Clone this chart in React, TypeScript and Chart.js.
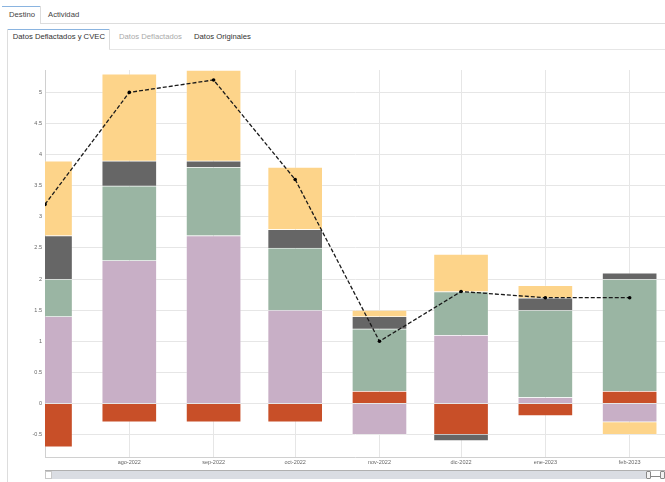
import React, { useEffect, useRef } from "react";
import { Chart, registerables } from "chart.js";

Chart.register(...registerables);

// ---- data ----
const categories = ["jul-2022", "ago-2022", "sep-2022", "oct-2022", "nov-2022", "dic-2022", "ene-2023", "feb-2023"];
const monthStarts = ["2022-07-01", "2022-08-01", "2022-09-01", "2022-10-01", "2022-11-01", "2022-12-01", "2023-01-01", "2023-02-01"];
const serieRoja = [-0.7, -0.3, -0.3, -0.3, 0.2, -0.5, -0.2, 0.2];
const serieRosa = [1.4, 2.3, 2.7, 1.5, -0.5, 1.1, 0.1, -0.3];
const serieVerde = [0.6, 1.2, 1.1, 1.0, 1.0, 0.7, 1.4, 1.8];
const serieGris = [0.7, 0.4, 0.1, 0.3, 0.2, -0.1, 0.2, 0.1];
const serieAmarilla = [1.2, 1.4, 1.46, 1.0, 0.1, 0.6, 0.2, -0.2];
const total = [3.2, 5.0, 5.2, 3.6, 1.0, 1.8, 1.7, 1.7];
const yTicks = [-0.5, 0, 0.5, 1, 1.5, 2, 2.5, 3, 3.5, 4, 4.5, 5];
const yMin = -0.86;
const yMax = 5.36;
const xMaxDays = 228;

const DAY = 86400000;
const t0 = Date.parse(monthStarts[0]);
const xDays = monthStarts.map((d) => (Date.parse(d) - t0) / DAY);

const FONT = "'Liberation Sans', Arial, sans-serif";

function ChartCanvas() {
  const ref = useRef<HTMLCanvasElement | null>(null);
  useEffect(() => {
    if (!ref.current) return;
    const pts = (vals: number[]) => vals.map((v, i) => ({ x: xDays[i], y: v }));
    const barDs = (label: string, vals: number[], color: string) => ({
      type: "bar" as const,
      label,
      data: pts(vals),
      backgroundColor: color,
      borderColor: "rgba(255,255,255,0.18)",
      borderWidth: 1,
      barThickness: 55,
      stack: "barras",
      order: 1,
    });
    const chart = new Chart(ref.current, {
      type: "bar",
      data: {
        datasets: [
          {
            type: "line" as const,
            label: "Total",
            data: pts(total),
            borderColor: "#1a1a1a",
            borderWidth: 1.3,
            borderDash: [4, 2],
            pointRadius: 1.8,
            pointBackgroundColor: "#000",
            pointBorderWidth: 0,
            stack: "total",
            order: 0,
            tension: 0,
          } as any,
          barDs("Serie 1", serieRoja, "#c84f28"),
          barDs("Serie 2", serieRosa, "#c8afc6"),
          barDs("Serie 3", serieVerde, "#9ab5a3"),
          barDs("Serie 4", serieGris, "#666666"),
          barDs("Serie 5", serieAmarilla, "#fdd48a"),
        ],
      },
      options: {
        animation: false,
        responsive: false,
        maintainAspectRatio: false,
        layout: { autoPadding: false, padding: { top: 15, bottom: 4, left: 0, right: 0 } },
        plugins: { legend: { display: false }, tooltip: { enabled: false } },
        scales: {
          x: {
            type: "linear",
            stacked: true,
            offset: false,
            min: 0,
            max: xMaxDays,
            afterFit: (s: any) => {
              s.height = 14;
              s.paddingLeft = 0;
              s.paddingRight = 0;
            },
            afterBuildTicks: (s: any) => {
              s.ticks = xDays.map((v) => ({ value: v }));
            },
            ticks: {
              padding: 2,
              maxRotation: 0,
              autoSkip: false,
              color: "#666",
              font: { family: FONT, size: 5.5 },
              callback: (v: any) => {
                const i = xDays.indexOf(Number(v));
                return i <= 0 ? "" : categories[i];
              },
            },
            grid: { color: "#e6e6e6", lineWidth: 1, drawTicks: false, offset: false },
            border: { color: "#d0d0d0", width: 1 },
          },
          y: {
            type: "linear",
            stacked: true,
            min: yMin,
            max: yMax,
            afterFit: (s: any) => {
              s.width = 45;
            },
            afterBuildTicks: (s: any) => {
              s.ticks = yTicks.map((v) => ({ value: v }));
            },
            ticks: {
              padding: 3,
              color: "#666",
              font: { family: FONT, size: 5.5 },
              callback: (v: any) => String(v),
            },
            grid: { color: "#e6e6e6", lineWidth: 1, drawTicks: false },
            border: { color: "#d0d0d0", width: 1 },
          },
        },
      },
    });
    return () => chart.destroy();
  }, []);
  return (
    <canvas
      ref={ref}
      width={665}
      height={420}
      style={{ position: "absolute", left: 0, top: 55, width: 665, height: 420 }}
    />
  );
}

const abs = (o: React.CSSProperties): React.CSSProperties => ({ position: "absolute", ...o });

export default function App() {
  const tabText = (text: string, left: number, cy: number, color: string) => (
    <div style={abs({ left, top: cy - 5, height: 10, lineHeight: "10px", fontSize: 7.7, color, whiteSpace: "nowrap" })}>{text}</div>
  );
  return (
    <div
      style={{
        position: "fixed",
        left: 0,
        top: 0,
        width: 665,
        height: 482,
        overflow: "hidden",
        background: "#fff",
        fontFamily: FONT,
      }}
    >
      {/* top tabs */}
      <div style={abs({ left: 2, top: 6, width: 38, height: 1, background: "#8ab4e0" })} />
      <div style={abs({ left: 40, top: 6, width: 1, height: 17, background: "#dddddd" })} />
      <div style={abs({ left: 40, top: 23, width: 625, height: 1, background: "#dddddd" })} />
      {tabText("Destino", 9, 14.5, "#444")}
      {tabText("Actividad", 48, 14.5, "#444")}

      {/* sub tabs */}
      <div style={abs({ left: 7, top: 29, width: 102, height: 1, background: "#8ab4e0" })} />
      <div style={abs({ left: 109, top: 29, width: 1, height: 20, background: "#dddddd" })} />
      <div style={abs({ left: 109, top: 49, width: 556, height: 1, background: "#e6e6e6" })} />
      <div style={abs({ left: 7, top: 29, width: 1, height: 453, background: "#dddddd" })} />
      {tabText("Datos Deflactados y CVEC", 12.7, 37, "#333")}
      {tabText("Datos Deflactados", 119, 37, "#aaaaaa")}
      {tabText("Datos Originales", 194, 37, "#333")}

      <ChartCanvas />

      {/* scrollbar */}
      <div style={abs({ left: 45, top: 470, width: 620, height: 1, background: "#b0b0b0" })} />
      <div style={abs({ left: 52, top: 471, width: 594, height: 8, background: "#dadde3" })} />
      <div style={abs({ left: 45, top: 471, width: 5, height: 6, background: "#fff", border: "1px solid #c8c8c8" })} />
      <div style={abs({ left: 646, top: 471, width: 3, height: 6, background: "#f2f2f2", border: "1px solid #888", borderRadius: 1 })} />
      <div style={abs({ left: 651, top: 476, width: 9, height: 1, background: "#888" })} />
      <div style={abs({ left: 660, top: 471, width: 3, height: 6, background: "#f2f2f2", border: "1px solid #888", borderRadius: 1 })} />
    </div>
  );
}
